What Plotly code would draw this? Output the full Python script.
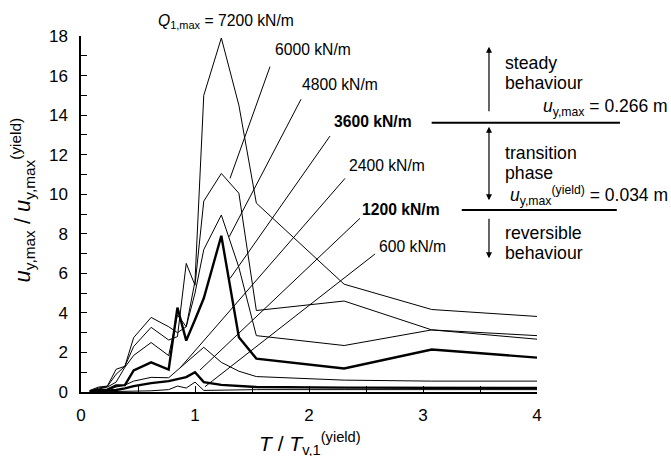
import plotly.graph_objects as go

# ---------------- data ----------------
period_ratio = [0.077, 0.154, 0.231, 0.308, 0.385, 0.462, 0.615, 0.769, 0.846, 0.923,
                1.0, 1.077, 1.231, 1.385, 1.538, 2.308, 3.077, 4.0]

u_7200 = [0.08, 0.25, 0.30, 1.15, 1.30, 2.75, 3.77, 3.30, 3.00, 3.30, 5.60, 15.0, 17.9, 14.5, 9.55, 5.45, 4.17, 3.82]
u_6000 = [0.05, 0.20, 0.28, 0.90, 1.30, 2.30, 3.27, 2.63, 2.80, 6.50, 5.40, 9.65, 11.05, 10.05, 4.12, 4.60, 3.14, 2.67]
u_4800 = [0.05, 0.15, 0.25, 0.50, 1.25, 1.85, 2.50, 1.84, 3.90, 3.30, 5.00, 7.20, 8.95, 6.30, 2.85, 2.35, 3.14, 2.85]
u_3600 = [0.03, 0.10, 0.12, 0.33, 0.35, 1.09, 1.50, 1.13, 4.27, 2.60, 3.65, 4.74, 7.90, 2.77, 1.69, 1.19, 2.15, 1.74]
u_2400 = [0.02, 0.05, 0.10, 0.25, 0.35, 0.55, 0.74, 0.72, 1.10, 1.50, 1.90, 2.26, 1.50, 1.05, 0.78, 0.60, 0.55, 0.55]
u_1200 = [0.01, 0.03, 0.06, 0.10, 0.18, 0.30, 0.45, 0.55, 0.65, 0.75, 1.00, 0.50, 0.36, 0.30, 0.25, 0.22, 0.20, 0.20]
u_600 = [0.00, 0.01, 0.02, 0.03, 0.04, 0.05, 0.06, 0.12, 0.30, 0.20, 0.50, 0.08, 0.10, 0.12, 0.12, 0.12, 0.12, 0.12]

series_names = ["7200", "6000", "4800", "3600", "2400", "1200", "600"]
series_values = [u_7200, u_6000, u_4800, u_3600, u_2400, u_1200, u_600]
bold_series = ["3600", "1200"]

label_texts = ["<i>Q</i><sub>1,max</sub> = 7200 kN/m", "6000 kN/m", "4800 kN/m",
               "<b>3600 kN/m</b>", "2400 kN/m", "<b>1200 kN/m</b>", "600 kN/m"]
# label centre (x, y) in paper units
label_pos = [(0.318, 1.040), (0.509, 0.963), (0.568, 0.865), (0.640, 0.761),
             (0.672, 0.635), (0.701, 0.514), (0.728, 0.410)]
# leader lines (x0, y0, x1, y1) in data units; None = no leader
leaders = [None, (1.658, 16.45, 1.307, 10.8), (1.93, 14.8, 1.30, 7.85),
           (2.184, 12.94, 1.307, 5.74), (2.316, 10.8, 0.868, 1.21),
           (2.447, 8.78, 1.044, 1.11), (2.579, 6.98, 1.088, 0.27)]

x_ticks = [0, 1, 2, 3, 4]
y_ticks = [0, 2, 4, 6, 8, 10, 12, 14, 16, 18]

FONT = "Liberation Sans, Arial, sans-serif"

fig = go.Figure()
for name, vals in zip(series_names, series_values):
    fig.add_trace(go.Scatter(
        x=period_ratio, y=vals, mode="lines", name=name,
        line=dict(color="black", width=2.4 if name in bold_series else 1.0),
        hoverinfo="skip", showlegend=False))

for txt, (lx, ly) in zip(label_texts, label_pos):
    fig.add_annotation(x=lx, y=ly, xref="paper", yref="paper", text=txt, showarrow=False,
                       xanchor="center", yanchor="middle",
                       font=dict(family=FONT, size=15.7, color="black"))
for ld in leaders:
    if ld is None:
        continue
    fig.add_shape(type="line", xref="x", yref="y", x0=ld[0], y0=ld[1], x1=ld[2], y1=ld[3],
                  line=dict(color="black", width=1))

# right-hand side explanation (paper coords)
fig.add_shape(type="line", xref="paper", yref="paper", x0=0.769, x1=1.182, y0=0.7565, y1=0.7565,
              line=dict(color="black", width=2))
fig.add_shape(type="line", xref="paper", yref="paper", x0=0.835, x1=1.175, y0=0.511, y1=0.511,
              line=dict(color="black", width=2))

ax_x = 0.8947
fig.add_annotation(x=ax_x, y=0.970, xref="paper", yref="paper", ax=0, ay=66, text="",
                   showarrow=True, arrowhead=2, arrowsize=1, arrowwidth=1.2, arrowcolor="black")
fig.add_annotation(x=ax_x, y=0.745, xref="paper", yref="paper", ax=0, ay=75, text="",
                   showarrow=True, arrowhead=2, startarrowhead=2, arrowside="end+start",
                   arrowsize=1, arrowwidth=1.2, arrowcolor="black")
fig.add_annotation(x=ax_x, y=0.3756, xref="paper", yref="paper", ax=0, ay=-41, text="",
                   showarrow=True, arrowhead=2, arrowsize=1, arrowwidth=1.2, arrowcolor="black")

side_texts = [("steady", 0.924), ("behaviour", 0.868), ("transition", 0.672), ("phase", 0.616),
              ("reversible", 0.4475), ("behaviour", 0.391)]
for t, yp in side_texts:
    fig.add_annotation(x=0.9254, y=yp, xref="paper", yref="paper", text=t, showarrow=False,
                       xanchor="left", yanchor="middle",
                       font=dict(family=FONT, size=17.7, color="black"))

fig.add_annotation(x=1.2917, y=0.80, xref="paper", yref="paper",
                   text="<i>u</i><sub>y,max</sub> = 0.266 m", showarrow=False,
                   xanchor="right", yanchor="middle", font=dict(family=FONT, size=17.5, color="black"))
fig.add_annotation(x=1.2917, y=0.553, xref="paper", yref="paper",
                   text="<i>u</i><sub>y,max</sub><sup>(yield)</sup> = 0.034 m", showarrow=False,
                   xanchor="right", yanchor="middle", font=dict(family=FONT, size=17.5, color="black"))

# axis titles
fig.add_annotation(x=-0.128, y=0.54, xref="paper", yref="paper", textangle=-90,
                   xanchor="center", yanchor="middle",
                   text="<i>u</i><sub>y,max</sub> / <i>u</i><sub>y,max</sub><sup>(yield)</sup>",
                   showarrow=False, font=dict(family=FONT, size=22, color="black"))
fig.add_annotation(x=0.502, y=-0.19, xref="paper", yref="paper",
                   xanchor="center", yanchor="bottom",
                   text="<i>T</i> / <i>T</i><sub>v,1</sub><sup>(yield)</sup>",
                   showarrow=False, font=dict(family=FONT, size=21, color="black"))

axis_common = dict(showline=True, linecolor="black", linewidth=1.5, ticks="inside", ticklen=6,
                   tickcolor="black", tickwidth=1, showgrid=False, zeroline=False, mirror=False,
                   tickfont=dict(family=FONT, size=17, color="black"))
fig.update_xaxes(range=[0, 4], tickvals=x_ticks, ticklabelstandoff=7,
                 minor=dict(dtick=0.5, ticks="inside", ticklen=6, tickcolor="black", showgrid=False),
                 **axis_common)
fig.update_yaxes(range=[0, 18], tickvals=y_ticks, ticklabelstandoff=8,
                 minor=dict(dtick=1, ticks="inside", ticklen=6, tickcolor="black", showgrid=False),
                 **axis_common)

fig.update_layout(width=671, height=456, margin=dict(l=81, r=134, t=36, b=64),
                  plot_bgcolor="white", paper_bgcolor="white", showlegend=False,
                  font=dict(family=FONT, color="black"))
fig.write_html("out.html")
